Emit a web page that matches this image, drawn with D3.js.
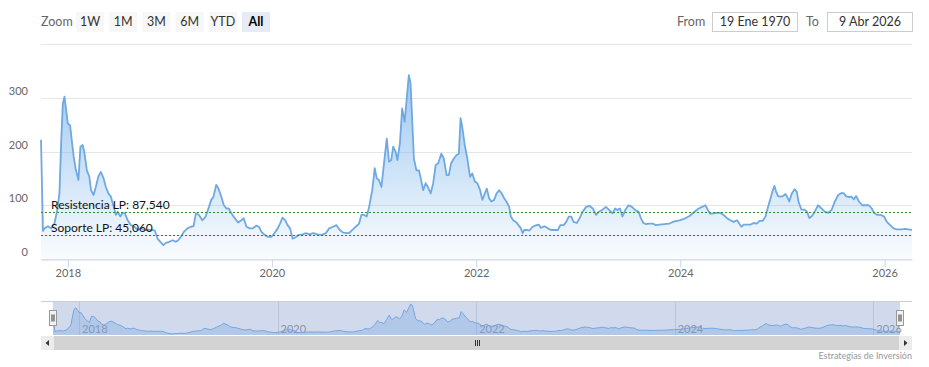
<!DOCTYPE html>
<html>
<head>
<meta charset="utf-8">
<script src="https://cdn.jsdelivr.net/npm/d3@7"></script>
<style>
  html, body { margin: 0; padding: 0; background: #fff; }
  #chart { width: 929px; height: 367px; }
</style>
</head>
<body>
<div id="chart"></div>
<script>
// Weekly-ish readings (date, value)
const dates = [
  '2017-09-27','2017-10-04','2017-10-10','2017-10-22','2017-11-02','2017-11-14','2017-11-23','2017-12-02',
  '2017-12-08','2017-12-14','2017-12-20','2017-12-26','2018-01-01','2018-01-09','2018-01-15','2018-01-22',
  '2018-01-30','2018-02-08','2018-02-15','2018-02-23','2018-03-01','2018-03-10','2018-03-19','2018-03-25',
  '2018-04-03','2018-04-11','2018-04-20','2018-04-29','2018-05-09','2018-05-17','2018-05-26','2018-06-04',
  '2018-06-14','2018-06-22','2018-06-28','2018-07-08','2018-07-16','2018-07-24','2018-08-03','2018-08-15',
  '2018-08-27','2018-09-08','2018-09-19','2018-10-02','2018-10-13','2018-10-31','2018-11-08','2018-11-18',
  '2018-11-28','2018-12-09','2018-12-18','2018-12-30','2019-01-11','2019-01-22','2019-01-31','2019-02-09',
  '2019-02-21','2019-03-05','2019-03-17','2019-03-27','2019-04-04','2019-04-15','2019-04-27','2019-05-09',
  '2019-05-21','2019-05-29','2019-06-06','2019-06-16','2019-06-24','2019-07-04','2019-07-13','2019-07-22',
  '2019-07-31','2019-08-09','2019-08-21','2019-09-02','2019-09-14','2019-09-22','2019-10-02','2019-10-14',
  '2019-10-25','2019-11-06','2019-11-16','2019-11-24','2019-12-06','2019-12-18','2019-12-30','2020-01-10',
  '2020-01-22','2020-01-30','2020-02-08','2020-02-18','2020-02-26','2020-03-06','2020-03-15','2020-03-25',
  '2020-04-06','2020-04-20','2020-05-02','2020-05-14','2020-05-28','2020-06-12','2020-06-28','2020-07-12',
  '2020-07-24','2020-08-07','2020-08-19','2020-08-31','2020-09-12','2020-09-27','2020-10-03','2020-10-15',
  '2020-10-27','2020-11-08','2020-11-16','2020-11-26','2020-12-05','2020-12-14','2020-12-25','2021-01-03',
  '2021-01-10','2021-01-18','2021-01-27','2021-02-05','2021-02-15','2021-02-23','2021-03-03','2021-03-10',
  '2021-03-19','2021-03-25','2021-04-03','2021-04-11','2021-04-20','2021-04-29','2021-05-05','2021-05-11',
  '2021-05-17','2021-05-23','2021-06-01','2021-06-10','2021-06-18','2021-06-25','2021-07-04','2021-07-12',
  '2021-07-22','2021-07-31','2021-08-09','2021-08-18','2021-08-29','2021-09-07','2021-09-17','2021-09-25',
  '2021-10-03','2021-10-13','2021-10-22','2021-10-31','2021-11-06','2021-11-12','2021-11-21','2021-11-30',
  '2021-12-10','2021-12-18','2021-12-27','2022-01-05','2022-01-15','2022-01-23','2022-02-01','2022-02-08',
  '2022-02-16','2022-02-24','2022-03-06','2022-03-15','2022-03-24','2022-04-02','2022-04-11','2022-04-19',
  '2022-04-29','2022-05-05','2022-05-13','2022-05-23','2022-06-01','2022-06-10','2022-06-16','2022-06-22',
  '2022-06-30','2022-07-10','2022-07-22','2022-07-31','2022-08-12','2022-08-21','2022-09-02','2022-09-14',
  '2022-09-26','2022-10-08','2022-10-20','2022-10-29','2022-11-10','2022-11-19','2022-11-28','2022-12-07',
  '2022-12-15','2022-12-27','2023-01-06','2023-01-17','2023-01-29','2023-02-10','2023-02-22','2023-03-06',
  '2023-03-15','2023-03-27','2023-04-10','2023-04-22','2023-05-04','2023-05-13','2023-05-21','2023-05-30',
  '2023-06-08','2023-06-18','2023-06-30','2023-07-12','2023-07-24','2023-08-05','2023-08-13','2023-08-22',
  '2023-08-31','2023-09-12','2023-09-24','2023-10-06','2023-10-18','2023-11-05','2023-11-23','2023-12-11',
  '2023-12-29','2024-01-16','2024-02-03','2024-02-21','2024-03-07','2024-03-19','2024-03-31','2024-04-09',
  '2024-04-17','2024-04-29','2024-05-11','2024-05-23','2024-06-04','2024-06-16','2024-06-28','2024-07-10',
  '2024-07-22','2024-07-31','2024-08-07','2024-08-15','2024-08-27','2024-09-08','2024-09-20','2024-10-02',
  '2024-10-10','2024-10-22','2024-11-01','2024-11-10','2024-11-19','2024-11-27','2024-12-03','2024-12-09',
  '2024-12-16','2024-12-25','2025-01-02','2025-01-11','2025-01-16','2025-01-25','2025-02-03','2025-02-13',
  '2025-02-21','2025-02-27','2025-03-09','2025-03-21','2025-03-29','2025-04-07','2025-04-16','2025-04-26',
  '2025-05-08','2025-05-20','2025-06-01','2025-06-13','2025-06-25','2025-07-07','2025-07-19','2025-07-31',
  '2025-08-08','2025-08-16','2025-08-26','2025-09-04','2025-09-13','2025-09-21','2025-10-01','2025-10-13',
  '2025-10-25','2025-11-06','2025-11-16','2025-11-24','2025-12-06','2025-12-18','2025-12-30','2026-01-09',
  '2026-01-21','2026-02-02','2026-02-13','2026-03-03','2026-03-15','2026-03-27','2026-04-09'
];
const values = [
  222, 52, 57, 61, 57, 66, 88, 122,
  215, 289, 302, 277, 252, 249, 221, 190,
  165, 147, 209, 212, 199, 165, 153, 128,
  119, 134, 153, 162, 150, 134, 122, 116,
  97, 82, 88, 79, 86, 85, 72, 63,
  60, 54, 57, 54, 54, 54, 53, 38,
  32, 26, 30, 32, 35, 32, 35, 41,
  51, 57, 60, 61, 85, 82, 72, 79,
  97, 110, 116, 138, 131, 116, 100, 94,
  94, 85, 76, 68, 72, 76, 60, 57,
  57, 62, 60, 51, 45, 41, 41, 48,
  57, 66, 77, 72, 63, 57, 38, 40,
  45, 46, 48, 46, 48, 46, 45, 48,
  57, 60, 63, 54, 49, 48, 48, 54,
  60, 66, 82, 82, 79, 97, 128, 169,
  150, 147, 134, 178, 224, 181, 184, 209,
  199, 184, 215, 280, 255, 308, 342, 327,
  258, 187, 165, 165, 147, 128, 141, 134,
  122, 141, 175, 178, 196, 187, 156, 156,
  178, 187, 193, 196, 262, 246, 212, 187,
  153, 159, 144, 141, 128, 110, 122, 131,
  113, 107, 110, 122, 128, 122, 113, 107,
  97, 79, 72, 69, 63, 57, 48, 54,
  54, 53, 60, 62, 64, 58, 61, 57,
  54, 54, 54, 63, 63, 69, 79, 79,
  69, 67, 76, 88, 97, 99, 94, 82,
  88, 91, 97, 91, 85, 94, 91, 94,
  79, 91, 100, 97, 91, 88, 76, 67,
  65, 66, 66, 63, 64, 65, 66, 70,
  72, 75, 80, 88, 94, 97, 100, 91,
  84, 85, 86, 86, 82, 76, 72, 69,
  72, 65, 60, 64, 64, 64, 67, 66,
  71, 71, 79, 97, 113, 128, 136, 125,
  117, 116, 117, 121, 117, 107, 122, 130,
  125, 107, 92, 92, 88, 76, 80, 88,
  100, 94, 88, 86, 91, 107, 119, 123,
  122, 117, 115, 116, 111, 117, 107, 100,
  100, 100, 94, 86, 82, 82, 79, 69,
  63, 57, 55, 55, 56, 55, 54
];

const yTicks = [0, 100, 200, 300, 400];
const yLabels = [0, 100, 200, 300];
const xTickYears = [2018, 2020, 2022, 2024, 2026];
const zoomButtons = ['1W', '1M', '3M', '6M', 'YTD', 'All'];
const selectedButton = 'All';
const fromLabel = '19 Ene 1970';
const toLabel = '9 Abr 2026';
const levels = [
  { name: 'Resistencia LP', value: 87.54, text: '87,540', color: '#2f8a3a' },
  { name: 'Soporte LP', value: 45.06, text: '45,060', color: '#d42a24' }
];
const creditText = 'Estrategias de Inversión';

const W = 929, H = 367;
const FONT = '"Segoe UI", Lato, "Open Sans", sans-serif';
const plot = { left: 41, right: 912, top: 44, bottom: 259 };
const nav = { left: 53, right: 900, top: 301, bottom: 335 };

const parse = d3.timeParse('%Y-%m-%d');
const data = dates.map((d, i) => ({ date: parse(d), value: values[i] }));
const extent = d3.extent(data, d => d.date);

const svg = d3.select('#chart').append('svg')
  .attr('width', W).attr('height', H)
  .attr('viewBox', `0 0 ${W} ${H}`)
  .style('display', 'block')
  .style('font-family', FONT);

const defs = svg.append('defs');
const grad = defs.append('linearGradient')
  .attr('id', 'area-grad')
  .attr('gradientUnits', 'userSpaceOnUse')
  .attr('x1', 0).attr('x2', 0).attr('y1', 60).attr('y2', plot.bottom);
grad.append('stop').attr('offset', '0%').attr('stop-color', '#7cb5ec').attr('stop-opacity', 0.8);
grad.append('stop').attr('offset', '100%').attr('stop-color', '#7cb5ec').attr('stop-opacity', 0.04);

const x = d3.scaleTime().domain(extent).range([plot.left, plot.right]);
const y = d3.scaleLinear().domain([0, 400]).range([plot.bottom, plot.top]);

// ---- range selector ----
svg.append('text')
  .attr('x', 41).attr('y', 26)
  .attr('fill', '#666').attr('font-size', '12.5px')
  .text('Zoom');

zoomButtons.forEach((b, i) => {
  const bx = 76 + i * 33.2;
  const sel = b === selectedButton;
  svg.append('rect')
    .attr('x', bx).attr('y', 12).attr('width', 28).attr('height', 20)
    .attr('fill', sel ? '#e6ebf5' : '#f7f7f7');
  svg.append('text')
    .attr('x', bx + 14).attr('y', 26)
    .attr('text-anchor', 'middle')
    .attr('fill', sel ? '#000' : '#333')
    .attr('font-weight', sel ? 'bold' : 'normal')
    .attr('font-size', '12.5px')
    .text(b);
});

[['From', 677, 712, fromLabel], ['To', 806, 827, toLabel]].forEach(([lab, lx, bx, val]) => {
  svg.append('text')
    .attr('x', lx).attr('y', 26)
    .attr('fill', '#666').attr('font-size', '12.5px')
    .text(lab);
  svg.append('rect')
    .attr('x', bx + 0.5).attr('y', 12.5).attr('width', 85).attr('height', 19)
    .attr('fill', '#fff').attr('stroke', '#cccccc');
  svg.append('text')
    .attr('x', bx + 43).attr('y', 26)
    .attr('text-anchor', 'middle')
    .attr('fill', '#333').attr('font-size', '12.5px')
    .text(val);
});

// ---- grid ----
svg.append('g').selectAll('line').data(yTicks).join('line')
  .attr('x1', plot.left).attr('x2', plot.right)
  .attr('y1', d => Math.round(y(d)) + 0.5).attr('y2', d => Math.round(y(d)) + 0.5)
  .attr('stroke', '#e6e6e6').attr('stroke-width', 1);

svg.append('g').selectAll('text').data(yLabels).join('text')
  .attr('x', 28).attr('y', d => y(d) - 3)
  .attr('text-anchor', 'end')
  .attr('fill', '#666').attr('font-size', '11px')
  .text(d => d);

// ---- series ----
const area = d3.area()
  .x(d => x(d.date)).y0(plot.bottom).y1(d => y(d.value));
const line = d3.line()
  .x(d => x(d.date)).y(d => y(d.value));

svg.append('path').datum(data)
  .attr('d', area)
  .attr('fill', 'url(#area-grad)');
svg.append('path').datum(data)
  .attr('d', line)
  .attr('fill', 'none')
  .attr('stroke', '#6fa9e2')
  .attr('stroke-width', 1.8)
  .attr('stroke-linejoin', 'round');

// ---- plot lines ----
levels.forEach(l => {
  const ly = Math.round(y(l.value)) + 0.5;
  svg.append('line')
    .attr('x1', plot.left).attr('x2', plot.right)
    .attr('y1', ly).attr('y2', ly)
    .attr('stroke', l.color).attr('stroke-width', 1)
    .attr('stroke-dasharray', '2,2')
    .attr('shape-rendering', 'crispEdges');
  svg.append('text')
    .attr('x', 51).attr('y', ly - 4)
    .attr('fill', '#111').attr('font-size', '12px')
    .text(`${l.name}: ${l.text}`);
});

// ---- x axis ----
const xAxis = d3.axisBottom(x)
  .tickValues(xTickYears.map(yr => new Date(yr, 0, 1)))
  .tickFormat(d3.timeFormat('%Y'))
  .tickSize(8).tickSizeOuter(0).tickPadding(2);
const xg = svg.append('g')
  .attr('transform', `translate(0,${plot.bottom + 0.5})`)
  .call(xAxis);
xg.select('.domain').attr('stroke', '#ccd6eb');
xg.selectAll('.tick line').attr('stroke', '#ccd6eb');
xg.selectAll('.tick text')
  .attr('fill', '#666').attr('font-size', '11px').attr('font-family', FONT);

// ---- navigator ----
const nx = d3.scaleTime().domain(extent).range([nav.left, nav.right]);
const ny = d3.scaleLinear().domain(d3.extent(values)).range([nav.bottom - 1, nav.top + 3]);

const ng = svg.append('g');
ng.selectAll('line.grid').data(xTickYears).join('line')
  .attr('class', 'grid')
  .attr('x1', d => Math.round(nx(new Date(d, 0, 1))) + 0.5)
  .attr('x2', d => Math.round(nx(new Date(d, 0, 1))) + 0.5)
  .attr('y1', nav.top).attr('y2', nav.bottom)
  .attr('stroke', '#e0e0e0');
ng.selectAll('text').data(xTickYears).join('text')
  .attr('x', d => nx(new Date(d, 0, 1)) + 3)
  .attr('y', 333)
  .attr('fill', '#999').attr('font-size', '11px')
  .text(d => d);

ng.append('path').datum(data)
  .attr('d', d3.area().x(d => nx(d.date)).y0(nav.bottom).y1(d => ny(d.value)))
  .attr('fill', 'rgba(124,181,236,0.35)');
ng.append('path').datum(data)
  .attr('d', d3.line().x(d => nx(d.date)).y(d => ny(d.value)))
  .attr('fill', 'none').attr('stroke', '#7cb5ec').attr('stroke-width', 1);

// mask over selected range (All)
ng.append('rect')
  .attr('x', nav.left).attr('y', nav.top)
  .attr('width', nav.right - nav.left).attr('height', nav.bottom - nav.top)
  .attr('fill', 'rgba(102,133,194,0.3)');

// outline
ng.append('path')
  .attr('d', `M${plot.left},${nav.top + 0.5}H${plot.right}`)
  .attr('stroke', '#cccccc').attr('fill', 'none');

// handles
[nav.left, nav.right].forEach(hx => {
  const h = ng.append('g').attr('transform', `translate(${Math.round(hx) + 0.5},310.5)`);
  h.append('rect')
    .attr('x', -4).attr('y', 0).attr('width', 7).attr('height', 15)
    .attr('fill', '#f2f2f2').attr('stroke', '#999');
  [-1.5, 0.5].forEach(dx => {
    h.append('line')
      .attr('x1', dx).attr('x2', dx).attr('y1', 4).attr('y2', 11)
      .attr('stroke', '#333');
  });
});

// ---- scrollbar ----
const sb = svg.append('g');
const sbTop = 336, sbH = 14;
sb.append('rect')
  .attr('x', plot.left).attr('y', sbTop).attr('width', plot.right - plot.left).attr('height', sbH)
  .attr('fill', '#f2f2f2');
sb.append('rect')
  .attr('x', plot.left + 13).attr('y', sbTop).attr('width', plot.right - plot.left - 26).attr('height', sbH)
  .attr('fill', '#d3d3d3');
[[plot.left, -1], [plot.right - 13, 1]].forEach(([bx, dir]) => {
  sb.append('rect')
    .attr('x', bx).attr('y', sbTop).attr('width', 13).attr('height', sbH)
    .attr('fill', '#ececec');
  const cx = bx + 6.5, cy = sbTop + sbH / 2;
  sb.append('path')
    .attr('d', `M${cx + dir * 2},${cy}L${cx - dir * 1.5},${cy - 3}L${cx - dir * 1.5},${cy + 3}Z`)
    .attr('fill', '#333');
});
const rifleX = (plot.left + plot.right) / 2;
[-2, 0, 2].forEach(dx => {
  sb.append('line')
    .attr('x1', Math.round(rifleX + dx) + 0.5).attr('x2', Math.round(rifleX + dx) + 0.5)
    .attr('y1', sbTop + 4).attr('y2', sbTop + 10)
    .attr('stroke', '#333');
});

// ---- credits ----
svg.append('text')
  .attr('x', 912).attr('y', 359)
  .attr('text-anchor', 'end')
  .attr('fill', '#999').attr('font-size', '9px')
  .text(creditText);
</script>
</body>
</html>
